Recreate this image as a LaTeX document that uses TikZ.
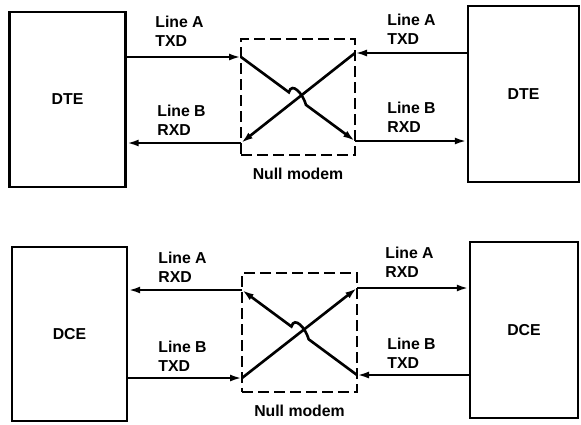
\documentclass[tikz,border=0pt]{standalone}
\usepackage{fontspec}
\setmainfont{Liberation Sans}
\usetikzlibrary{arrows.meta,calc,positioning}

\tikzset{
  unit/.style={draw,line width=1.4pt,inner sep=0pt,font=\bfseries\fontsize{9}{11}\selectfont},
  nullbox/.style={draw,line width=1.4pt,dash pattern=on 2.2mm off 1mm,inner sep=0pt},
  wire/.style={line width=1.5pt},
  lbl/.style={font=\bfseries\fontsize{9}{11}\selectfont,align=left,anchor=west,inner sep=0pt},
}

\begin{document}
\begin{tikzpicture}[x=0.02cm,y=-0.02cm,>={Latex[length=2.4mm,width=1.4mm]}]
\useasboundingbox (0,0) rectangle (581,424);
% ---- DTE <-> DTE ----
\node[unit,minimum width=2.32cm,minimum height=3.5cm] (dteL) at (67.5,99.5) {DTE};
\node[unit,minimum width=2.22cm,minimum height=3.52cm] (dteR) at (523.5,94) {DTE};
\node[nullbox,minimum width=2.28cm,minimum height=2.32cm] (nmT) at (298,97) {};
\node[lbl,anchor=north,below=0.22cm of nmT] (nmTlbl) {Null modem};
% Anschluesse am Nullmodem
\coordinate (aL) at (241,57);
\coordinate (bL) at (241,143);
\coordinate (aR) at (355,53);
\coordinate (bR) at (355,141);
% Leitungen
\draw[wire,->] (dteL.east |- aL) -- (aL);
\draw[wire,->] (bL) -- (dteL.east |- bL);
\draw[wire,->] (dteR.west |- aR) -- (aR);
\draw[wire,->] (bR) -- (dteR.west |- bR);
% Kreuzung mit Bruecke
\draw[wire,->] (aL) -- ($(aL)!0.42!(bR)$) .. controls +(3,-11) and +(-3,-11) .. ($(aL)!0.57!(bR)$) -- (bR);
\draw[wire,->] (aR) -- (bL);
% Beschriftung
\node[lbl] (txdL) at (155,31) {Line A\\TXD};
\node[lbl] (rxdL) at (157,120) {Line B\\RXD};
\node[lbl] (txdR) at (387,29) {Line A\\TXD};
\node[lbl] (rxdR) at (387,117) {Line B\\RXD};
% ---- DCE <-> DCE ----
\node[unit,minimum width=2.3cm,minimum height=3.48cm] (dceL) at (69.5,334) {DCE};
\node[unit,minimum width=2.16cm,minimum height=3.52cm] (dceR) at (524,330) {DCE};
\node[nullbox,minimum width=2.3cm,minimum height=2.38cm] (nmB) at (299.5,332.5) {};
\node[lbl,anchor=north,below=0.22cm of nmB] (nmBlbl) {Null modem};
\coordinate (cL) at (242,290);
\coordinate (dL) at (242,378);
\coordinate (cR) at (357,288);
\coordinate (dR) at (357,375);
\draw[wire,->] (cL) -- (dceL.east |- cL);
\draw[wire,->] (dceL.east |- dL) -- (dL);
\draw[wire,->] (cR) -- (dceR.west |- cR);
\draw[wire,->] (dceR.west |- dR) -- (dR);
\draw[wire,<-] (cL) -- ($(cL)!0.43!(dR)$) .. controls +(3,-11) and +(-3,-11) .. ($(cL)!0.58!(dR)$) -- (dR);
\draw[wire,->] (dL) -- (cR);
\node[lbl] (rxdL2) at (158,267) {Line A\\RXD};
\node[lbl] (txdL2) at (158,356) {Line B\\TXD};
\node[lbl] (rxdR2) at (385,262) {Line A\\RXD};
\node[lbl] (txdR2) at (387,353) {Line B\\TXD};
\end{tikzpicture}
\end{document}
